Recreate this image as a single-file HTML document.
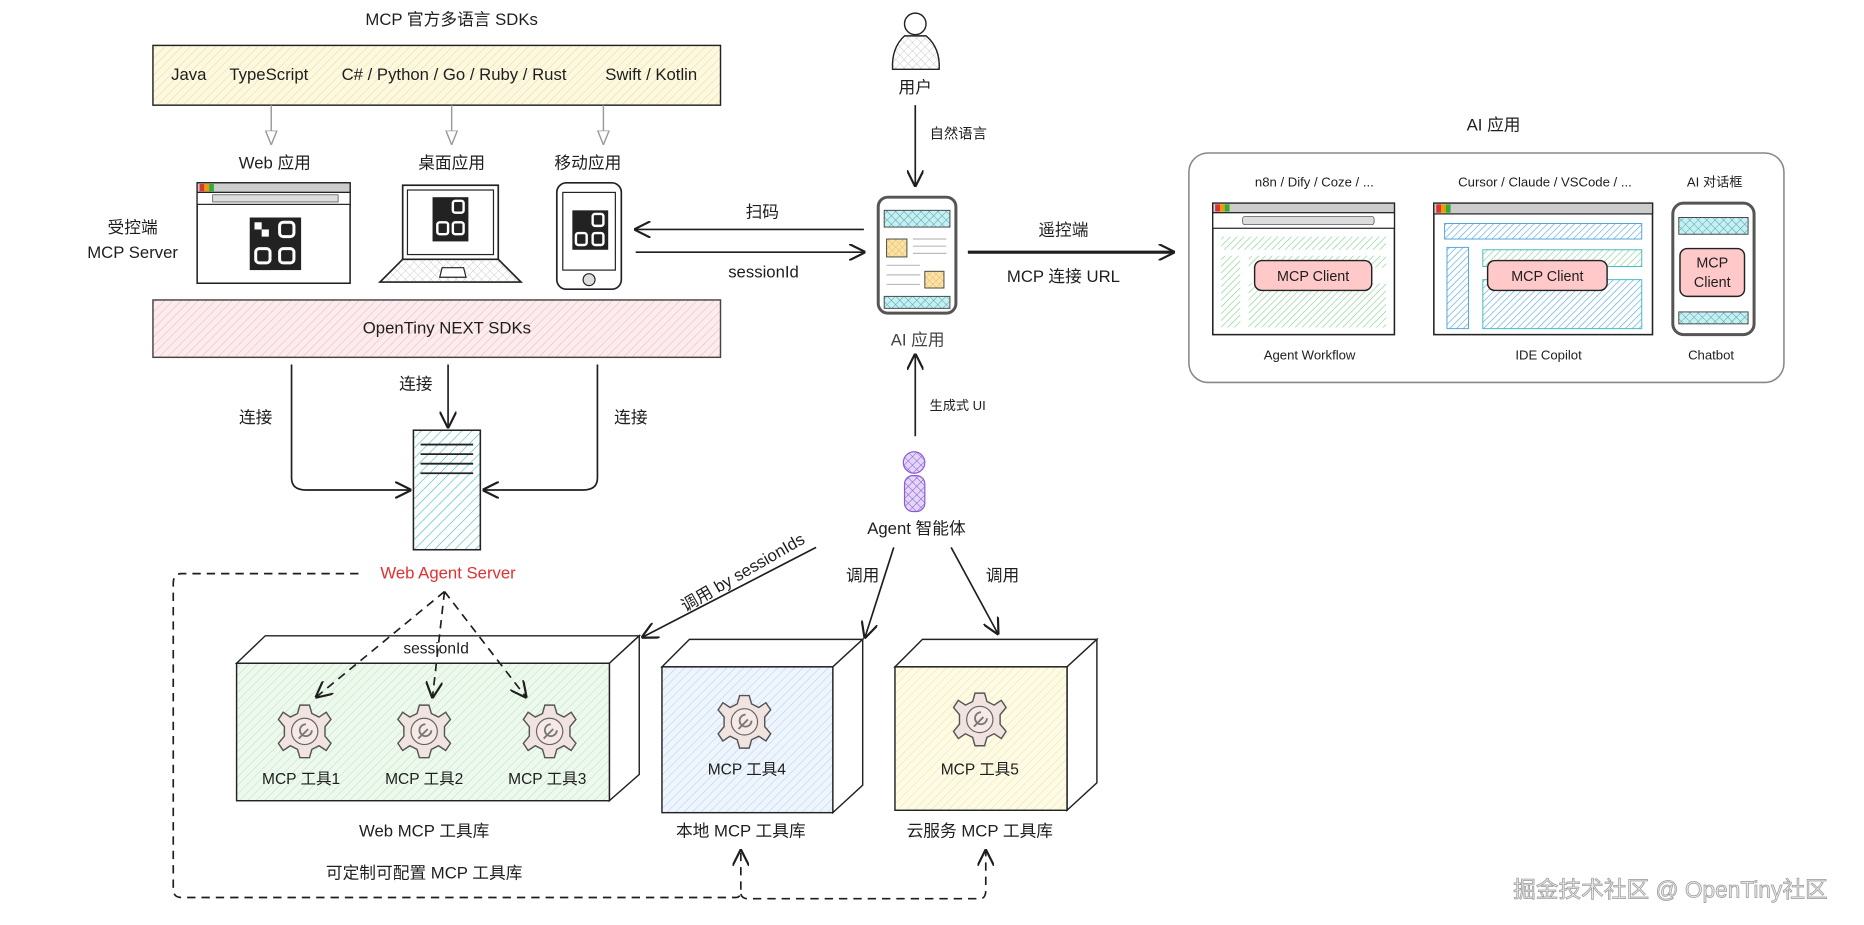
<!DOCTYPE html>
<html><head><meta charset="utf-8"><style>
html,body{margin:0;padding:0;background:#fff;}
svg{display:block;}
text{font-family:"Liberation Sans","Noto Sans CJK SC",sans-serif;fill:#1e1e1e;}
</style></head><body>
<svg width="1864" height="925" viewBox="0 0 1560 774" preserveAspectRatio="none" xmlns="http://www.w3.org/2000/svg">
<defs>
<pattern id="hy" width="5" height="5" patternUnits="userSpaceOnUse" patternTransform="rotate(45)"><rect width="5" height="5" fill="#fdf9e1"/><line x1="0" y1="0" x2="0" y2="5" stroke="#e9dfa0" stroke-width="1"/></pattern>
<pattern id="hp" width="5" height="5" patternUnits="userSpaceOnUse" patternTransform="rotate(45)"><rect width="5" height="5" fill="#fcecee"/><line x1="0" y1="0" x2="0" y2="5" stroke="#efbcc2" stroke-width="1"/></pattern>
<pattern id="hg" width="5" height="5" patternUnits="userSpaceOnUse" patternTransform="rotate(45)"><rect width="5" height="5" fill="#eef9ee"/><line x1="0" y1="0" x2="0" y2="5" stroke="#bfe5c4" stroke-width="1"/></pattern>
<pattern id="hb" width="5" height="5" patternUnits="userSpaceOnUse" patternTransform="rotate(45)"><rect width="5" height="5" fill="#eef5fc"/><line x1="0" y1="0" x2="0" y2="5" stroke="#bcd6ef" stroke-width="1"/></pattern>
<pattern id="hyl" width="5" height="5" patternUnits="userSpaceOnUse" patternTransform="rotate(45)"><rect width="5" height="5" fill="#fdfbe6"/><line x1="0" y1="0" x2="0" y2="5" stroke="#f0e6a8" stroke-width="1"/></pattern>
<pattern id="hc" width="6" height="6" patternUnits="userSpaceOnUse" patternTransform="rotate(45)"><rect width="6" height="6" fill="#fff"/><line x1="0" y1="0" x2="0" y2="6" stroke="#3bbdbd" stroke-width="1"/></pattern>
<pattern id="hgr" width="4" height="4" patternUnits="userSpaceOnUse" patternTransform="rotate(45)"><rect width="4" height="4" fill="#fff"/><line x1="0" y1="0" x2="0" y2="4" stroke="#7fcf8e" stroke-width="1"/></pattern>
<pattern id="hbl" width="4" height="4" patternUnits="userSpaceOnUse" patternTransform="rotate(45)"><rect width="4" height="4" fill="#fff"/><line x1="0" y1="0" x2="0" y2="4" stroke="#4fa3e0" stroke-width="1"/></pattern>
<pattern id="xc" width="5" height="5" patternUnits="userSpaceOnUse" patternTransform="rotate(45)"><rect width="5" height="5" fill="#c9eef0"/><path d="M0 0V5M0 0H5" stroke="#3aa9b5" stroke-width="0.8"/></pattern>
<pattern id="xp" width="5" height="5" patternUnits="userSpaceOnUse" patternTransform="rotate(45)"><rect width="5" height="5" fill="#e4d6f7"/><path d="M0 0V5M0 0H5" stroke="#8a5cd6" stroke-width="0.9"/></pattern>
<pattern id="xg" width="5" height="5" patternUnits="userSpaceOnUse" patternTransform="rotate(45)"><rect width="5" height="5" fill="#fff"/><path d="M0 0V5M0 0H5" stroke="#bbb" stroke-width="0.6"/></pattern>
<pattern id="xo" width="4" height="4" patternUnits="userSpaceOnUse" patternTransform="rotate(45)"><rect width="4" height="4" fill="#fbe3a8"/><path d="M0 0V4M0 0H4" stroke="#e0b050" stroke-width="0.6"/></pattern>
<marker id="ah" viewBox="0 0 10 10" refX="9" refY="5" markerWidth="14" markerHeight="14" orient="auto" markerUnits="userSpaceOnUse"><path d="M0 0L10 5L0 10" fill="none" stroke="#1e1e1e" stroke-width="1.3"/></marker>
<marker id="ahg" viewBox="0 0 10 10" refX="9" refY="5" markerWidth="12" markerHeight="12" orient="auto" markerUnits="userSpaceOnUse"><path d="M0 1L10 5L0 9Z" fill="#fff" stroke="#999" stroke-width="1"/></marker>
<g id="gear">
<path d="M-4,-22 L4,-22 L6,-15 L12,-12 L18,-16 L22,-10 L17,-4 L17,4 L22,10 L18,16 L12,12 L6,15 L4,22 L-4,22 L-6,15 L-12,12 L-18,16 L-22,10 L-17,4 L-17,-4 L-22,-10 L-18,-16 L-12,-12 L-6,-15 Z" fill="#f1e4e0" stroke="#555" stroke-width="1.2"/>
<circle r="11" fill="#f7e9e6" stroke="#666" stroke-width="1"/>
<path d="M-5,6 L3,-2 M1,-6 A5 5 0 1 0 6,-1" fill="none" stroke="#777" stroke-width="1.5"/>
</g>
</defs>

<!-- top -->
<text x="378" y="21" font-size="14" text-anchor="middle">MCP 官方多语言 SDKs</text>
<rect x="128" y="38" width="475" height="50" fill="url(#hy)" stroke="#222" stroke-width="1.2"/>
<g font-size="14"><text x="158" y="67" text-anchor="middle">Java</text><text x="225" y="67" text-anchor="middle">TypeScript</text><text x="380" y="67" text-anchor="middle">C# / Python / Go / Ruby / Rust</text><text x="545" y="67" text-anchor="middle">Swift / Kotlin</text></g>
<g stroke="#999" stroke-width="1.2"><line x1="227" y1="88" x2="227" y2="120" marker-end="url(#ahg)"/><line x1="378" y1="88" x2="378" y2="120" marker-end="url(#ahg)"/><line x1="505" y1="88" x2="505" y2="120" marker-end="url(#ahg)"/></g>
<g font-size="14" text-anchor="middle"><text x="230" y="141">Web 应用</text><text x="378" y="141">桌面应用</text><text x="492" y="141">移动应用</text>
<text x="111" y="195">受控端</text><text x="111" y="216">MCP Server</text></g>

<!-- browser -->
<rect x="165" y="153" width="128" height="84" fill="#fff" stroke="#222" stroke-width="1.3"/>
<rect x="165" y="153" width="128" height="8" fill="#ccc" stroke="#222"/>
<rect x="167" y="154" width="4" height="6" fill="#d33"/><rect x="171" y="154" width="4" height="6" fill="#e90"/><rect x="175" y="154" width="4" height="6" fill="#3a3"/>
<rect x="165" y="161" width="128" height="10" fill="#fff" stroke="#222"/><rect x="178" y="163" width="105" height="6" fill="#ddd" stroke="#444" stroke-width="0.6"/>
<rect x="209" y="182" width="43" height="44" fill="#222"/>
<g fill="none" stroke="#fff" stroke-width="2.5"><rect x="234" y="186" width="12" height="12" rx="3"/><rect x="214" y="208" width="12" height="12" rx="3"/><rect x="234" y="208" width="12" height="12" rx="3"/></g>
<rect x="213" y="186" width="6" height="6" fill="#fff"/><rect x="219" y="192" width="6" height="6" fill="#fff"/>
<!-- laptop -->
<rect x="337" y="155" width="80" height="62" fill="#fff" stroke="#222" stroke-width="1.4"/>
<rect x="341" y="159" width="72" height="54" fill="#fff" stroke="#222"/>
<path d="M337 217 L417 217 L436 236 L318 236 Z" fill="url(#xg)" stroke="#222" stroke-width="1.4"/>
<path d="M370 224 L388 224 L390 232 L368 232 Z" fill="#fff" stroke="#222"/>
<rect x="362" y="165" width="30" height="37" fill="#222"/>
<g fill="none" stroke="#fff" stroke-width="2"><rect x="379" y="168" width="9" height="10" rx="2"/><rect x="366" y="186" width="9" height="10" rx="2"/><rect x="379" y="186" width="9" height="10" rx="2"/></g>
<!-- phone -->
<rect x="466" y="153" width="54" height="89" rx="8" fill="#fff" stroke="#222" stroke-width="1.4"/>
<rect x="471" y="161" width="44" height="65" fill="#fff" stroke="#222"/>
<circle cx="493" cy="234" r="5" fill="#ddd" stroke="#222"/>
<rect x="479" y="176" width="30" height="33" fill="#222"/>
<g fill="none" stroke="#fff" stroke-width="2"><rect x="496" y="179" width="9" height="10" rx="2"/><rect x="482" y="195" width="9" height="10" rx="2"/><rect x="496" y="195" width="9" height="10" rx="2"/></g>

<!-- pink -->
<rect x="128" y="251" width="475" height="48" fill="url(#hp)" stroke="#444" stroke-width="1.2"/>
<text x="374" y="279" font-size="14" text-anchor="middle">OpenTiny NEXT SDKs</text>

<g fill="none" stroke="#1e1e1e" stroke-width="1.4">
<path d="M244 305 L244 400 Q244 410 256 410 L343 410" marker-end="url(#ah)"/>
<path d="M375 305 L375 357" marker-end="url(#ah)"/>
<path d="M500 305 L500 400 Q500 410 488 410 L405 410" marker-end="url(#ah)"/>
</g>
<g font-size="14" text-anchor="middle"><text x="214" y="354">连接</text><text x="348" y="326">连接</text><text x="528" y="354">连接</text></g>
<rect x="346" y="360" width="56" height="100" fill="url(#hc)" stroke="#222" stroke-width="1.3"/>
<g stroke="#222" stroke-width="1.5"><line x1="352" y1="372" x2="396" y2="372"/><line x1="352" y1="380" x2="396" y2="380"/><line x1="352" y1="388" x2="396" y2="388"/><line x1="352" y1="396" x2="396" y2="396"/></g>
<text x="375" y="484" font-size="14" text-anchor="middle" style="fill:#e03131">Web Agent Server</text>

<!-- box1 -->
<path d="M198 555 L222 532 L535 532 L510 555 Z" fill="#fff" stroke="#222" stroke-width="1.2"/>
<path d="M510 555 L535 532 L535 648 L510 670 Z" fill="#fff" stroke="#222" stroke-width="1.2"/>
<rect x="198" y="555" width="312" height="115" fill="url(#hg)" stroke="#222" stroke-width="1.2"/>
<text x="365" y="547" font-size="13" text-anchor="middle">sessionId</text>
<use href="#gear" x="255" y="612"/><use href="#gear" x="355" y="612"/><use href="#gear" x="460" y="612"/>
<g font-size="13" text-anchor="middle"><text x="252" y="656">MCP 工具1</text><text x="355" y="656">MCP 工具2</text><text x="458" y="656">MCP 工具3</text></g>
<!-- box2 -->
<path d="M554 558 L577 535 L722 535 L697 558 Z" fill="#fff" stroke="#222" stroke-width="1.2"/>
<path d="M697 558 L722 535 L722 657 L697 680 Z" fill="#fff" stroke="#222" stroke-width="1.2"/>
<rect x="554" y="558" width="143" height="122" fill="url(#hb)" stroke="#222" stroke-width="1.2"/>
<use href="#gear" x="623" y="604"/><text x="625" y="648" font-size="13" text-anchor="middle">MCP 工具4</text>
<!-- box3 -->
<path d="M749 558 L772 535 L918 535 L893 558 Z" fill="#fff" stroke="#222" stroke-width="1.2"/>
<path d="M893 558 L918 535 L918 655 L893 678 Z" fill="#fff" stroke="#222" stroke-width="1.2"/>
<rect x="749" y="558" width="144" height="120" fill="url(#hyl)" stroke="#222" stroke-width="1.2"/>
<use href="#gear" x="820" y="602"/><text x="820" y="648" font-size="13" text-anchor="middle">MCP 工具5</text>
<g font-size="14" text-anchor="middle"><text x="355" y="700">Web MCP 工具库</text><text x="620" y="700">本地 MCP 工具库</text><text x="820" y="700">云服务 MCP 工具库</text><text x="355" y="735">可定制可配置 MCP 工具库</text></g>

<!-- dashed loop & dashed arrows (on top) -->
<g fill="none" stroke="#1e1e1e" stroke-width="1.4" stroke-dasharray="7 5">
<path d="M300 480 L152 480 Q145 480 145 488 L145 744 Q145 751 152 751 L616 751 Q620 751 620 745 L620 712" marker-end="url(#ah)"/>
<path d="M620 748 Q621 752 626 752 L820 752 Q825 752 825 745 L825 712" marker-end="url(#ah)"/>
<path d="M372 495 L265 583" marker-end="url(#ah)"/>
<path d="M372 495 L362 583" marker-end="url(#ah)"/>
<path d="M372 495 L440 583" marker-end="url(#ah)"/>
</g>

<!-- user -->
<circle cx="766" cy="20" r="9" fill="#fff" stroke="#222" stroke-width="1.2"/>
<path d="M757 30 Q746 40 747 58 L786 58 Q787 40 775 30 Z" fill="url(#xg)" stroke="#222" stroke-width="1.2"/>
<text x="766" y="78" font-size="14" text-anchor="middle">用户</text>
<line x1="766" y1="88" x2="766" y2="155" stroke="#1e1e1e" stroke-width="1.4" marker-end="url(#ah)"/>
<text x="778" y="116" font-size="12">自然语言</text>
<!-- AI phone -->
<rect x="735" y="165" width="65" height="97" rx="8" fill="#fff" stroke="#555" stroke-width="2.5"/>
<rect x="740" y="176" width="55" height="14" fill="url(#xc)" stroke="#444" stroke-width="0.8"/>
<rect x="740" y="248" width="55" height="10" fill="url(#xc)" stroke="#444" stroke-width="0.8"/>
<rect x="742" y="200" width="17" height="15" fill="url(#xo)" stroke="#444" stroke-width="0.8"/>
<rect x="774" y="227" width="16" height="14" fill="url(#xo)" stroke="#444" stroke-width="0.8"/>
<g stroke="#bbb" stroke-width="1"><line x1="764" y1="200" x2="792" y2="200"/><line x1="764" y1="206" x2="792" y2="206"/><line x1="764" y1="212" x2="792" y2="212"/><line x1="742" y1="222" x2="770" y2="222"/><line x1="742" y1="230" x2="770" y2="230"/><line x1="742" y1="238" x2="770" y2="238"/></g>
<text x="768" y="289" font-size="14" text-anchor="middle" style="fill:#444">AI 应用</text>
<!-- horiz arrows -->
<line x1="723" y1="192" x2="532" y2="192" stroke="#1e1e1e" stroke-width="1.4" marker-end="url(#ah)"/>
<line x1="532" y1="211" x2="723" y2="211" stroke="#1e1e1e" stroke-width="1.4" marker-end="url(#ah)"/>
<text x="638" y="182" font-size="14" text-anchor="middle">扫码</text>
<text x="639" y="232" font-size="14" text-anchor="middle">sessionId</text>
<line x1="810" y1="211" x2="982" y2="211" stroke="#1e1e1e" stroke-width="2.6" marker-end="url(#ah)"/>
<text x="890" y="197" font-size="14" text-anchor="middle">遥控端</text>
<text x="890" y="236" font-size="14" text-anchor="middle">MCP 连接 URL</text>
<line x1="766" y1="365" x2="766" y2="297" stroke="#1e1e1e" stroke-width="1.4" marker-end="url(#ah)"/>
<text x="778" y="343" font-size="11">生成式 UI</text>
<!-- agent -->
<circle cx="765" cy="387" r="9" fill="url(#xp)" stroke="#8a5cd6" stroke-width="1"/>
<rect x="757" y="398" width="17" height="30" rx="7" fill="url(#xp)" stroke="#8a5cd6" stroke-width="1"/>
<text x="767" y="447" font-size="14" text-anchor="middle">Agent 智能体</text>
<g fill="none" stroke="#1e1e1e" stroke-width="1.4">
<line x1="683" y1="458" x2="538" y2="533" marker-end="url(#ah)"/>
<line x1="748" y1="458" x2="724" y2="533" marker-end="url(#ah)"/>
<line x1="796" y1="458" x2="835" y2="530" marker-end="url(#ah)"/>
</g>
<text x="624" y="483" font-size="14" text-anchor="middle" transform="rotate(-30 624 483)">调用 by sessionIds</text>
<text x="722" y="486" font-size="14" text-anchor="middle">调用</text>
<text x="839" y="486" font-size="14" text-anchor="middle">调用</text>

<!-- AI apps box -->
<text x="1250" y="109" font-size="14" text-anchor="middle">AI 应用</text>
<rect x="995" y="128" width="498" height="192" rx="16" fill="#fff" stroke="#888" stroke-width="1.3"/>
<g font-size="11" text-anchor="middle"><text x="1100" y="156">n8n / Dify / Coze / ...</text><text x="1293" y="156">Cursor / Claude / VSCode / ...</text><text x="1435" y="156">AI 对话框</text></g>
<rect x="1015" y="170" width="152" height="110" fill="#fff" stroke="#222" stroke-width="1.3"/>
<rect x="1015" y="170" width="152" height="8" fill="#ccc" stroke="#222"/>
<rect x="1017" y="171" width="4" height="6" fill="#d33"/><rect x="1021" y="171" width="4" height="6" fill="#e90"/><rect x="1025" y="171" width="4" height="6" fill="#3a3"/>
<rect x="1015" y="178" width="152" height="13" fill="#fff" stroke="#222"/><rect x="1040" y="181" width="110" height="7" rx="2" fill="#ddd" stroke="#444" stroke-width="0.6"/>
<rect x="1022" y="198" width="138" height="11" fill="url(#hgr)"/>
<rect x="1022" y="214" width="16" height="60" fill="url(#hgr)"/>
<rect x="1045" y="214" width="115" height="10" fill="url(#hgr)"/>
<rect x="1045" y="237" width="115" height="37" fill="url(#hgr)"/>
<rect x="1050" y="218" width="98" height="25" rx="6" fill="#ffc9c9" stroke="#222" stroke-width="1.2"/>
<text x="1099" y="235" font-size="12" text-anchor="middle">MCP Client</text>
<rect x="1200" y="170" width="183" height="110" fill="#fff" stroke="#222" stroke-width="1.3"/>
<rect x="1200" y="170" width="183" height="9" fill="#ccc" stroke="#222"/>
<rect x="1202" y="171" width="4" height="7" fill="#d33"/><rect x="1206" y="171" width="4" height="7" fill="#e90"/><rect x="1210" y="171" width="4" height="7" fill="#3a3"/>
<rect x="1209" y="187" width="165" height="13" fill="url(#hbl)" stroke="#4fa3e0" stroke-width="0.8"/>
<rect x="1211" y="207" width="18" height="68" fill="url(#hbl)" stroke="#4fa3e0" stroke-width="0.8"/>
<rect x="1241" y="209" width="133" height="14" fill="url(#hgr)" stroke="#3bbdbd" stroke-width="0.8"/>
<rect x="1241" y="234" width="133" height="41" fill="url(#hbl)" stroke="#3bbdbd" stroke-width="0.8"/>
<rect x="1245" y="218" width="100" height="25" rx="6" fill="#ffc9c9" stroke="#222" stroke-width="1.2"/>
<text x="1295" y="235" font-size="12" text-anchor="middle">MCP Client</text>
<rect x="1400" y="170" width="68" height="110" rx="9" fill="#fff" stroke="#555" stroke-width="2.5"/>
<rect x="1405" y="182" width="58" height="14" fill="url(#xc)" stroke="#444" stroke-width="0.8"/>
<rect x="1405" y="261" width="58" height="10" fill="url(#xc)" stroke="#444" stroke-width="0.8"/>
<rect x="1406" y="208" width="54" height="40" rx="6" fill="#ffc9c9" stroke="#222" stroke-width="1.2"/>
<text x="1433" y="224" font-size="12" text-anchor="middle">MCP</text><text x="1433" y="240" font-size="12" text-anchor="middle">Client</text>
<g font-size="11" text-anchor="middle"><text x="1096" y="301">Agent Workflow</text><text x="1296" y="301">IDE Copilot</text><text x="1432" y="301">Chatbot</text></g>

<text x="1398" y="751" font-size="19" text-anchor="middle" style="fill:#e8e8e8;stroke:#999;stroke-width:0.6">掘金技术社区 @ OpenTiny社区</text>
</svg>
</body></html>
